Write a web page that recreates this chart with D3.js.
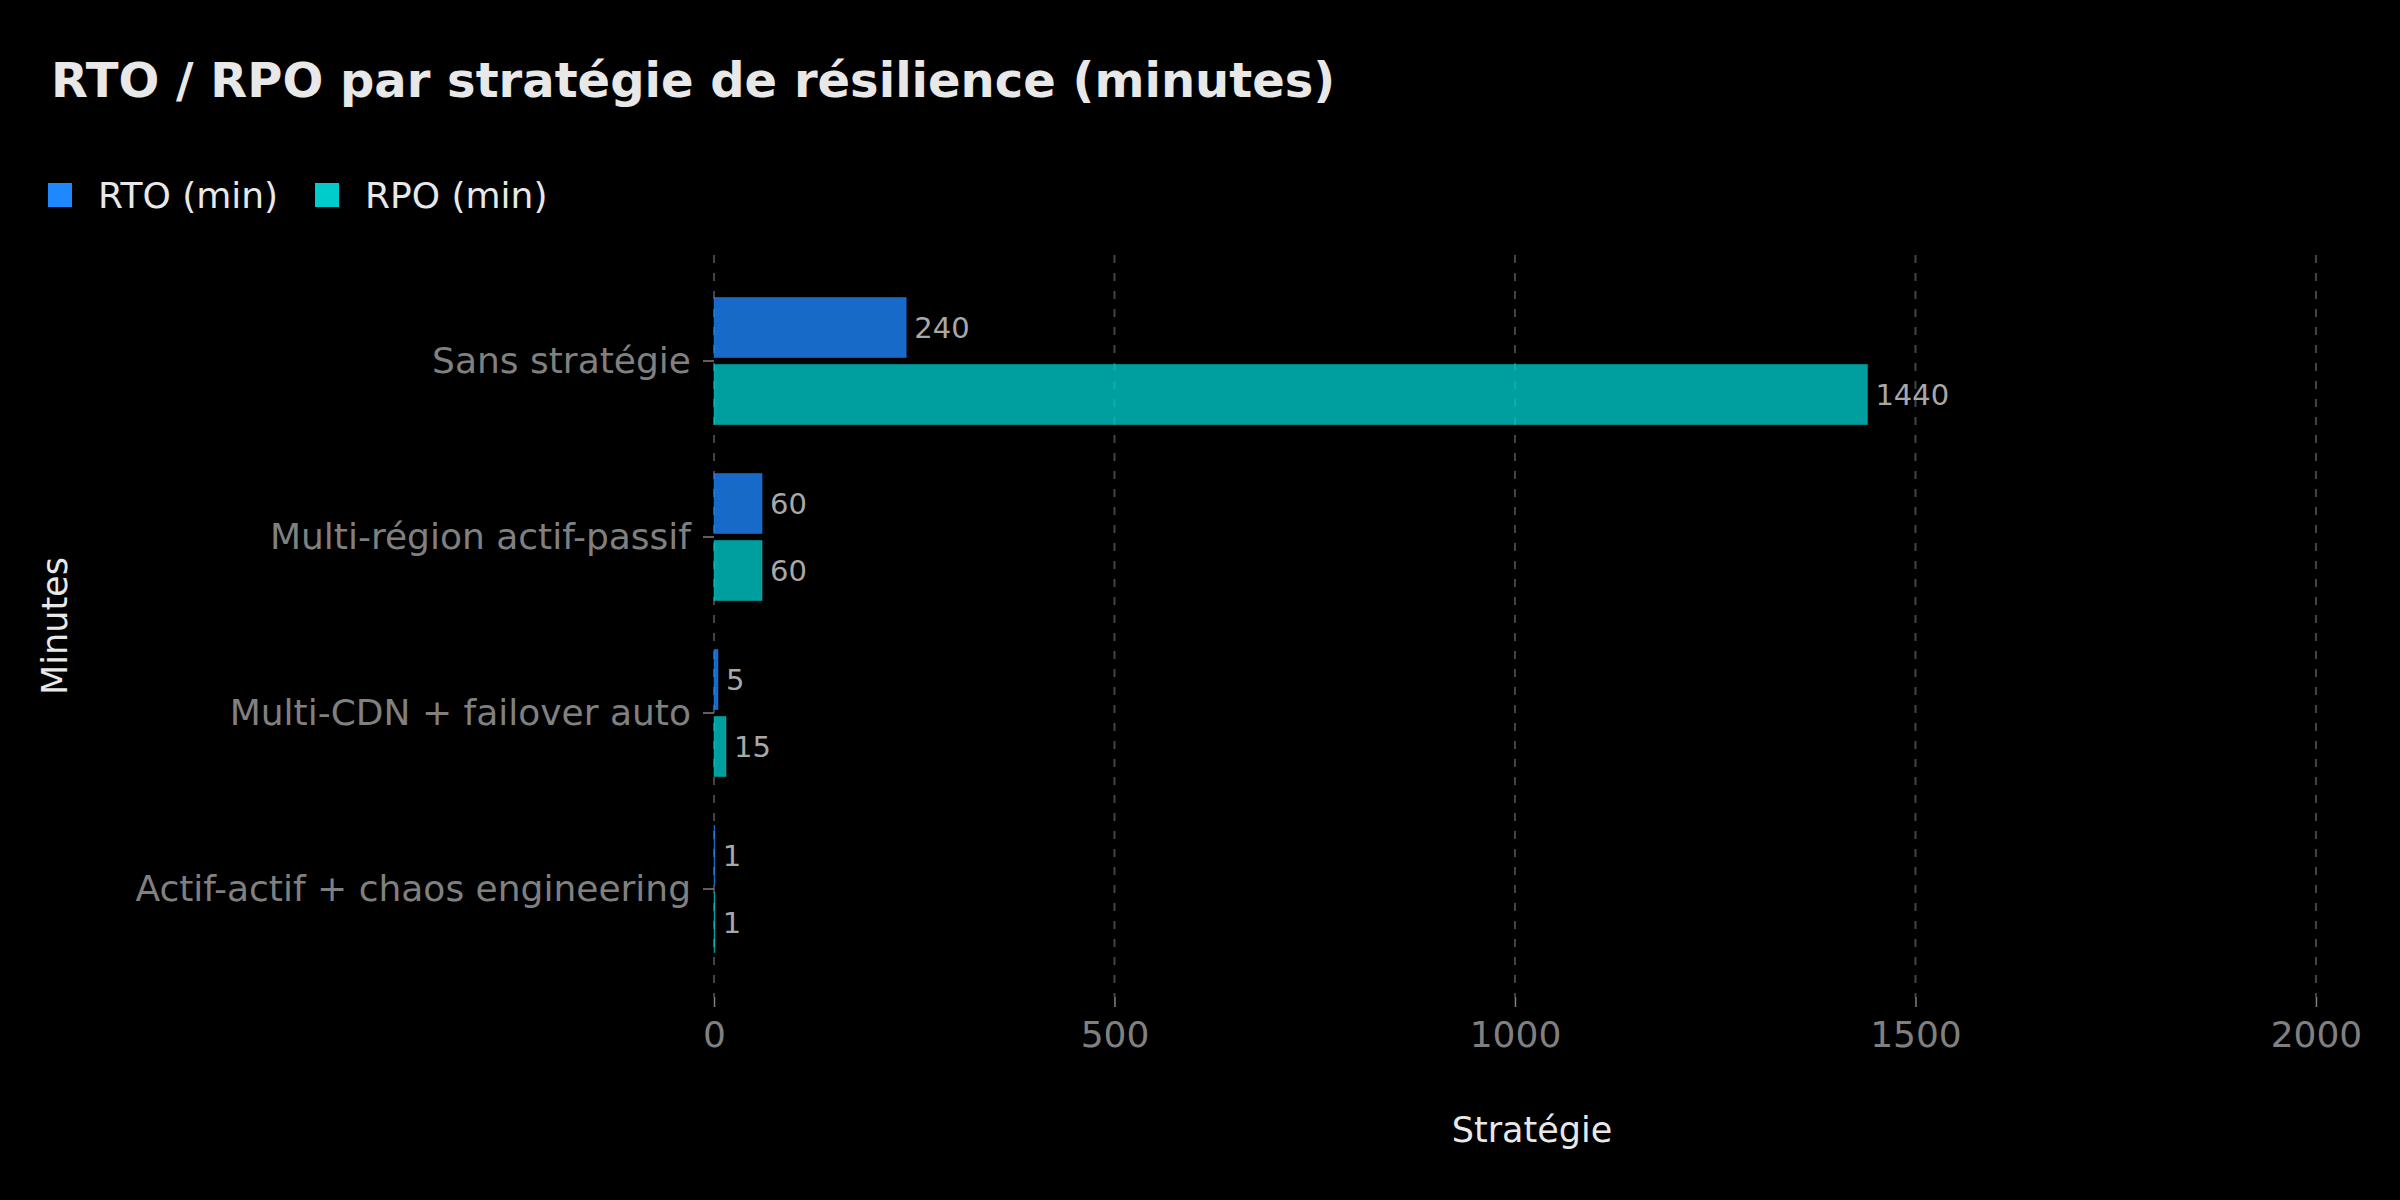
<!DOCTYPE html>
<html>
<head>
<meta charset="utf-8">
<script src="https://cdn.jsdelivr.net/npm/d3@7"></script>
<style>
    body { margin: 0; background: #000; }
    text { font-family: "DejaVu Sans", sans-serif; }
</style>
</head>
<body>
<div id="chart"></div>
<script>
// data
const categories = ["Sans stratégie", "Multi-région actif-passif", "Multi-CDN + failover auto", "Actif-actif + chaos engineering"];
const seriesNames = ["RTO (min)", "RPO (min)"];
const rtoValues = [240, 60, 5, 1];
const rpoValues = [1440, 60, 15, 1];
const xTickValues = [0, 500, 1000, 1500, 2000];
const seriesColors = ["#1e88ff", "#00cccc"];

const W = 2400, H = 1200;
const panel = { left: 714, right: 2352, top: 255, bottom: 997 };

const svg = d3.select("#chart").append("svg")
    .attr("width", W)
    .attr("height", H)
    .style("background", "#000");

// scales
const x = d3.scaleLinear()
    .domain([0, 2045])
    .range([panel.left, panel.right]);

const y = d3.scaleBand()
    .domain(categories)
    .range([273, 977])
    .paddingInner(0.278)
    .paddingOuter(0.139);

const ySub = d3.scaleBand()
    .domain(seriesNames)
    .range([0, y.bandwidth()])
    .paddingInner(0.104);

// grid lines (dashed)
svg.append("g")
    .selectAll("line")
    .data(xTickValues)
    .join("line")
    .attr("x1", d => x(d))
    .attr("x2", d => x(d))
    .attr("y1", panel.top)
    .attr("y2", panel.bottom)
    .attr("stroke", "#444")
    .attr("stroke-width", 2)
    .attr("stroke-dasharray", "8,10");

// x axis
const xAxis = svg.append("g")
    .attr("transform", `translate(0, ${panel.bottom})`)
    .call(d3.axisBottom(x).tickValues(xTickValues).tickFormat(d3.format("d")).tickSize(10).tickPadding(14));
xAxis.select(".domain").remove();
xAxis.selectAll(".tick line").attr("stroke", "#808080").attr("stroke-width", 1.5);
xAxis.selectAll(".tick text")
    .attr("fill", "#808080")
    .style("font-size", "36px")
    .style("font-family", "DejaVu Sans");

// y axis
const yAxis = svg.append("g")
    .attr("transform", `translate(${panel.left}, 0)`)
    .call(d3.axisLeft(y).tickSize(11).tickPadding(12));
yAxis.select(".domain").remove();
yAxis.selectAll(".tick line").attr("stroke", "#808080").attr("stroke-width", 1.5);
yAxis.selectAll(".tick text")
    .attr("fill", "#808080")
    .style("font-size", "36px")
    .style("font-family", "DejaVu Sans");

// bars
const rows = categories.map((c, i) => ({
    category: c,
    values: [
        { key: seriesNames[0], value: rtoValues[i], color: seriesColors[0] },
        { key: seriesNames[1], value: rpoValues[i], color: seriesColors[1] }
    ]
}));

const groups = svg.append("g")
    .selectAll("g")
    .data(rows)
    .join("g")
    .attr("transform", d => `translate(0, ${y(d.category)})`);

groups.selectAll("rect")
    .data(d => d.values)
    .join("rect")
    .attr("x", x(0))
    .attr("y", d => ySub(d.key))
    .attr("width", d => x(d.value) - x(0))
    .attr("height", ySub.bandwidth())
    .attr("fill", d => d.color)
    .attr("fill-opacity", 0.78)
    .attr("stroke", d => d.color)
    .attr("stroke-opacity", 0.4)
    .attr("stroke-width", 1);

groups.selectAll("text")
    .data(d => d.values)
    .join("text")
    .attr("x", d => x(d.value) + 8)
    .attr("y", d => ySub(d.key) + ySub.bandwidth() / 2)
    .attr("dy", "0.35em")
    .attr("fill", "#a8a8a8")
    .style("font-size", "29px")
    .text(d => d.value);

// title
svg.append("text")
    .attr("x", 51)
    .attr("y", 97)
    .attr("fill", "#e8e8e8")
    .style("font-size", "48px")
    .style("font-weight", "bold")
    .text("RTO / RPO par stratégie de résilience (minutes)");

// legend
const legendX = [48, 315];
const legend = svg.append("g")
    .selectAll("g")
    .data(seriesNames)
    .join("g")
    .attr("transform", (d, i) => `translate(${legendX[i]}, 183)`);
legend.append("rect")
    .attr("width", 24)
    .attr("height", 24)
    .attr("fill", (d, i) => seriesColors[i]);
legend.append("text")
    .attr("x", 50)
    .attr("y", 12)
    .attr("dy", "0.35em")
    .attr("fill", "#e8e8e8")
    .style("font-size", "36px")
    .text(d => d);

// axis titles
svg.append("text")
    .attr("x", 1532)
    .attr("y", 1142)
    .attr("text-anchor", "middle")
    .attr("fill", "#e8e8e8")
    .style("font-size", "35px")
    .text("Stratégie");

svg.append("text")
    .attr("transform", "translate(67, 626) rotate(-90)")
    .attr("text-anchor", "middle")
    .attr("fill", "#e8e8e8")
    .style("font-size", "35px")
    .text("Minutes");
</script>
</body>
</html>
